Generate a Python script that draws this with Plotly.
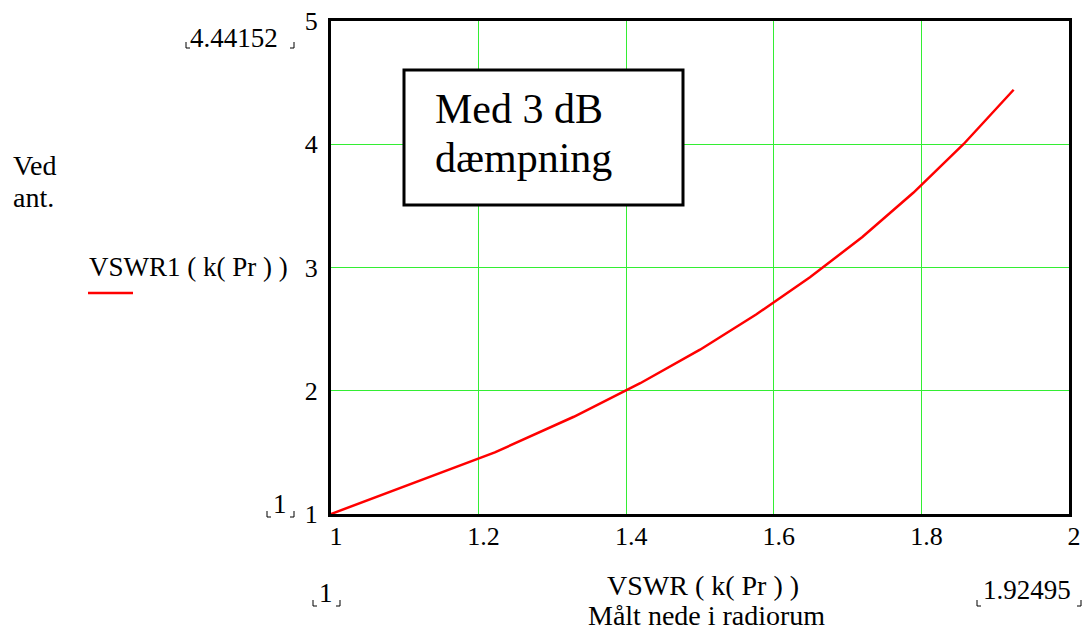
import plotly.graph_objects as go

# Data
vswr_measured = [1.0, 1.222, 1.329, 1.419, 1.5, 1.576, 1.649, 1.72, 1.789, 1.857, 1.925]
vswr_antenna = [1.0, 1.5, 1.789, 2.061, 2.333, 2.618, 2.921, 3.247, 3.606, 4.0, 4.442]
x_ticks = [1, 1.2, 1.4, 1.6, 1.8, 2]
x_tick_labels = ["1", "1.2", "1.4", "1.6", "1.8", "2"]
y_ticks = [1, 2, 3, 4, 5]
y_tick_labels = ["1", "2", "3", "4", "5"]

W, H = 1082, 630
L, T, R, B = 331, 21, 1069, 514
PW, PH = R - L, B - T
FONT = "Liberation Serif, Times New Roman, serif"


def px(x):
    return (x - L) / PW


def py(y):
    return (B - y) / PH


fig = go.Figure()
fig.add_trace(go.Scatter(x=vswr_measured, y=vswr_antenna, mode="lines",
                         line=dict(color="#ff0000", width=2.5),
                         hoverinfo="skip", showlegend=False))

shapes = []
annotations = []


def bracket(xl, xr, ybot, h=6, w=4):
    for path in (f"M {px(xl)},{py(ybot-h)} L {px(xl)},{py(ybot)} L {px(xl+w)},{py(ybot)}",
                 f"M {px(xr-w)},{py(ybot)} L {px(xr)},{py(ybot)} L {px(xr)},{py(ybot-h)}"):
        shapes.append(dict(type="path", xref="paper", yref="paper", path=path,
                           line=dict(color="black", width=1)))


def text(t, x, y, size=26, xanchor="center"):
    annotations.append(dict(text=t, x=px(x), y=py(y), xref="paper", yref="paper",
                            xanchor=xanchor, yanchor="middle", showarrow=False,
                            font=dict(family=FONT, size=size, color="black")))


# box with note
shapes.append(dict(type="rect", xref="paper", yref="paper", x0=px(404), x1=px(683),
                   y0=py(205), y1=py(70), fillcolor="white",
                   line=dict(color="black", width=3), layer="above"))
text("Med 3 dB", 433, 109, size=42, xanchor="left")
text("dæmpning", 433, 158, size=42, xanchor="left")

# legend-like y label
text("Ved", 11, 166, size=28, xanchor="left")
text("ant.", 11, 197, size=28, xanchor="left")
text("VSWR1 ( k( Pr ) )", 87, 267, size=27, xanchor="left")
shapes.append(dict(type="line", xref="paper", yref="paper", x0=px(88), x1=px(133),
                   y0=py(293), y1=py(293), line=dict(color="#ff0000", width=2.5)))

# x label
text("VSWR ( k( Pr ) )", 703, 585, size=28)
text("Målt nede i radiorum", 706, 615, size=28)

# range markers
text("4.44152", 234, 38, size=27)
bracket(186, 294, 48)
text("1", 280, 504, size=27)
bracket(267, 294, 517)
text("1", 326, 593, size=27)
bracket(313, 340, 606)
text("1.92495", 1027, 590, size=27)
bracket(977, 1081, 606)

fig.update_layout(
    width=W, height=H,
    margin=dict(l=L, r=W - R, t=T, b=H - B, pad=0, autoexpand=False),
    paper_bgcolor="white", plot_bgcolor="white",
    font=dict(family=FONT, size=26, color="black"),
    shapes=shapes, annotations=annotations,
    xaxis=dict(range=[1, 2], tickvals=x_ticks, ticktext=x_tick_labels,
               showgrid=True, gridcolor="#33ee33", gridwidth=1,
               showline=True, linecolor="black", linewidth=3, mirror=True,
               ticks="", zeroline=False, ticklabelstandoff=-3, ticklabelshift=5,
               automargin=False, tickfont=dict(family=FONT, size=26)),
    yaxis=dict(range=[1, 5], tickvals=y_ticks, ticktext=y_tick_labels,
               showgrid=True, gridcolor="#33ee33", gridwidth=1,
               showline=True, linecolor="black", linewidth=3, mirror=True,
               ticks="", zeroline=False, ticklabelstandoff=5,
               automargin=False, tickfont=dict(family=FONT, size=26)),
)

fig.write_html("out.html", config={"displayModeBar": False},
               post_script="document.body.style.margin='0px';document.body.style.overflow='hidden';")
